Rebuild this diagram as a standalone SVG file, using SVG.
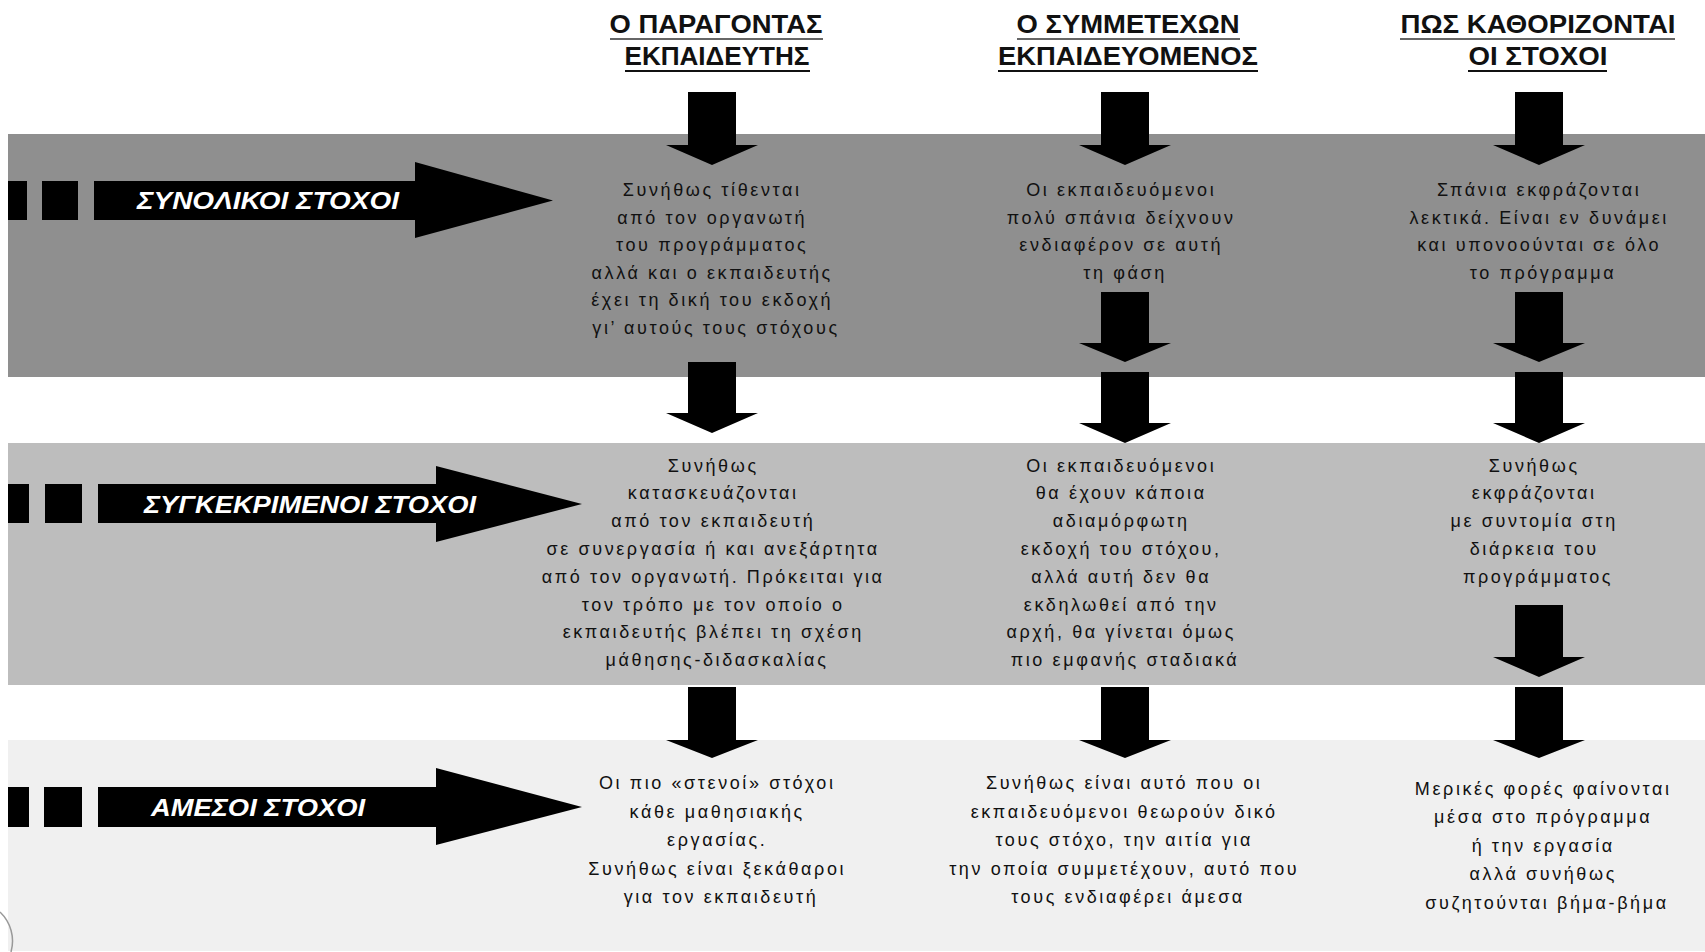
<svg xmlns="http://www.w3.org/2000/svg" width="1705" height="952" viewBox="0 0 1705 952">
<style>
.hdr{font-family:"Liberation Sans",Arial,sans-serif;font-weight:bold;font-size:25px;fill:#111;text-anchor:middle}
.lbl{font-family:"Liberation Sans",Arial,sans-serif;font-weight:bold;font-style:italic;font-size:24px;fill:#fff;text-anchor:middle}
.txt{font-family:"Liberation Sans",Arial,sans-serif;font-size:18px;letter-spacing:2.6px;fill:#111;text-anchor:middle}
.arr{fill:#000}
.ul1{fill:#666}
.ul2{fill:#111}
</style>
<rect width="1705" height="952" fill="#fff"/>
<g id="bands">
<rect id="band1" x="8" y="134" width="1697" height="243" fill="#8f8f8f"/>
<rect id="band2" x="8" y="443" width="1697" height="242" fill="#bdbdbd"/>
<rect id="band3" x="8" y="740" width="1697" height="211" fill="#f0f0f0"/>
</g>
<path d="M0,912 A 40 40 0 0 1 11,952" fill="none" stroke="#999" stroke-width="1.5"/>
<g id="headers">
<g id="hdr1">
<text class="hdr" x="716" y="33" textLength="213" lengthAdjust="spacingAndGlyphs">Ο ΠΑΡΑΓΟΝΤΑΣ</text>
<rect class="ul1" x="610" y="38" width="213" height="2"/>
<text class="hdr" x="717" y="65" textLength="185" lengthAdjust="spacingAndGlyphs">ΕΚΠΑΙΔΕΥΤΗΣ</text>
<rect class="ul2" x="625" y="70" width="185" height="2"/>
</g>
<g id="hdr2">
<text class="hdr" x="1128" y="33" textLength="223" lengthAdjust="spacingAndGlyphs">Ο ΣΥΜΜΕΤΕΧΩΝ</text>
<rect class="ul1" x="1017" y="38" width="223" height="2"/>
<text class="hdr" x="1128" y="65" textLength="260" lengthAdjust="spacingAndGlyphs">ΕΚΠΑΙΔΕΥΟΜΕΝΟΣ</text>
<rect class="ul2" x="998" y="70" width="260" height="2"/>
</g>
<g id="hdr3">
<text class="hdr" x="1538" y="33" textLength="275" lengthAdjust="spacingAndGlyphs">ΠΩΣ ΚΑΘΟΡΙΖΟΝΤΑΙ</text>
<rect class="ul1" x="1400" y="38" width="275" height="2"/>
<text class="hdr" x="1538" y="65" textLength="139" lengthAdjust="spacingAndGlyphs">ΟΙ ΣΤΟΧΟΙ</text>
<rect class="ul2" x="1468" y="70" width="139" height="2"/>
</g>
</g>
<g id="row-arrows">
<g id="arrow-synolikoi">
<rect class="arr" x="8" y="181" width="19" height="39"/>
<rect class="arr" x="42" y="181" width="36" height="39"/>
<rect class="arr" x="94" y="181" width="322" height="39"/>
<polygon class="arr" points="415,162 553,200.5 415,238"/>
<text class="lbl" x="268" y="209" textLength="262" lengthAdjust="spacingAndGlyphs">ΣΥΝΟΛΙΚΟΙ ΣΤΟΧΟΙ</text>
</g>
<g id="arrow-sygkekrimenoi">
<rect class="arr" x="8" y="484" width="21" height="39"/>
<rect class="arr" x="45" y="484" width="37" height="39"/>
<rect class="arr" x="98" y="484" width="339" height="39"/>
<polygon class="arr" points="436,466 582,504 436,542"/>
<text class="lbl" x="310" y="512.5" textLength="332" lengthAdjust="spacingAndGlyphs">ΣΥΓΚΕΚΡΙΜΕΝΟΙ ΣΤΟΧΟΙ</text>
</g>
<g id="arrow-amesoi">
<rect class="arr" x="8" y="787" width="21" height="40"/>
<rect class="arr" x="44" y="787" width="38" height="40"/>
<rect class="arr" x="98" y="787" width="339" height="40"/>
<polygon class="arr" points="436,768 582,807 436,845"/>
<text class="lbl" x="258" y="815.5" textLength="214" lengthAdjust="spacingAndGlyphs">ΑΜΕΣΟΙ ΣΤΟΧΟΙ</text>
</g>
</g>
<g id="connectors">
<path class="arr" d="M688,92H736V145H758L712,165L666,145H688Z"/>
<path class="arr" d="M688,362H736V413H758L712,433L666,413H688Z"/>
<path class="arr" d="M688,687H736V740H758L712,758L666,740H688Z"/>
<path class="arr" d="M1101,92H1149V145H1171L1125,165L1079,145H1101Z"/>
<path class="arr" d="M1101,292H1149V343H1171L1125,362L1079,343H1101Z"/>
<path class="arr" d="M1101,372H1149V423H1171L1125,443L1079,423H1101Z"/>
<path class="arr" d="M1101,687H1149V740H1171L1125,758L1079,740H1101Z"/>
<path class="arr" d="M1515,92H1563V145H1585L1539,165L1493,145H1515Z"/>
<path class="arr" d="M1515,292H1563V343H1585L1539,362L1493,343H1515Z"/>
<path class="arr" d="M1515,372H1563V423H1585L1539,443L1493,423H1515Z"/>
<path class="arr" d="M1515,605H1563V657H1585L1539,677L1493,657H1515Z"/>
<path class="arr" d="M1515,687H1563V740H1585L1539,758L1493,740H1515Z"/>
</g>
<g id="cell-1-1">
<text class="txt">
<tspan x="716" y="196">Συνήθως τίθενται</tspan>
<tspan x="716" y="223.5">από τον οργανωτή</tspan>
<tspan x="716" y="251">του προγράμματος</tspan>
<tspan x="716" y="278.5">αλλά και ο εκπαιδευτής</tspan>
<tspan x="716" y="306">έχει τη δική του εκδοχή</tspan>
<tspan x="716" y="333.5">γι’ αυτούς τους στόχους</tspan>
</text>
</g>
<g id="cell-1-2">
<text class="txt">
<tspan x="1125" y="196">Οι εκπαιδευόμενοι</tspan>
<tspan x="1125" y="223.5">πολύ σπάνια δείχνουν</tspan>
<tspan x="1125" y="251">ενδιαφέρον σε αυτή</tspan>
<tspan x="1125" y="278.5">τη φάση</tspan>
</text>
</g>
<g id="cell-1-3">
<text class="txt">
<tspan x="1543" y="196">Σπάνια εκφράζονται</tspan>
<tspan x="1543" y="223.5">λεκτικά. Είναι εν δυνάμει</tspan>
<tspan x="1543" y="251">και υπονοούνται σε όλο</tspan>
<tspan x="1543" y="278.5">το πρόγραμμα</tspan>
</text>
</g>
<g id="cell-2-1">
<text class="txt">
<tspan x="717" y="471.5">Συνήθως</tspan>
<tspan x="717" y="499.3">κατασκευάζονται</tspan>
<tspan x="717" y="527.1">από τον εκπαιδευτή</tspan>
<tspan x="717" y="554.9">σε συνεργασία ή και ανεξάρτητα</tspan>
<tspan x="717" y="582.7">από τον οργανωτή. Πρόκειται για</tspan>
<tspan x="717" y="610.5">τον τρόπο με τον οποίο ο</tspan>
<tspan x="717" y="638.3">εκπαιδευτής βλέπει τη σχέση</tspan>
<tspan x="717" y="666.1">μάθησης-διδασκαλίας</tspan>
</text>
</g>
<g id="cell-2-2">
<text class="txt">
<tspan x="1125" y="471.5">Οι εκπαιδευόμενοι</tspan>
<tspan x="1125" y="499.3">θα έχουν κάποια</tspan>
<tspan x="1125" y="527.1">αδιαμόρφωτη</tspan>
<tspan x="1125" y="554.9">εκδοχή του στόχου,</tspan>
<tspan x="1125" y="582.7">αλλά αυτή δεν θα</tspan>
<tspan x="1125" y="610.5">εκδηλωθεί από την</tspan>
<tspan x="1125" y="638.3">αρχή, θα γίνεται όμως</tspan>
<tspan x="1125" y="666.1">πιο εμφανής σταδιακά</tspan>
</text>
</g>
<g id="cell-2-3">
<text class="txt">
<tspan x="1538" y="471.5">Συνήθως</tspan>
<tspan x="1538" y="499.3">εκφράζονται</tspan>
<tspan x="1538" y="527.1">με συντομία στη</tspan>
<tspan x="1538" y="554.9">διάρκεια του</tspan>
<tspan x="1538" y="582.7">προγράμματος</tspan>
</text>
</g>
<g id="cell-3-1">
<text class="txt">
<tspan x="721" y="789">Οι πιο «στενοί» στόχοι</tspan>
<tspan x="721" y="817.5">κάθε μαθησιακής</tspan>
<tspan x="721" y="846">εργασίας.</tspan>
<tspan x="721" y="874.5">Συνήθως είναι ξεκάθαροι</tspan>
<tspan x="721" y="903">για τον εκπαιδευτή</tspan>
</text>
</g>
<g id="cell-3-2">
<text class="txt">
<tspan x="1128" y="789">Συνήθως είναι αυτό που οι</tspan>
<tspan x="1128" y="817.5">εκπαιδευόμενοι θεωρούν δικό</tspan>
<tspan x="1128" y="846">τους στόχο, την αιτία για</tspan>
<tspan x="1128" y="874.5">την οποία συμμετέχουν, αυτό που</tspan>
<tspan x="1128" y="903">τους ενδιαφέρει άμεσα</tspan>
</text>
</g>
<g id="cell-3-3">
<text class="txt">
<tspan x="1547" y="794.5">Μερικές φορές φαίνονται</tspan>
<tspan x="1547" y="823">μέσα στο πρόγραμμα</tspan>
<tspan x="1547" y="851.5">ή την εργασία</tspan>
<tspan x="1547" y="880">αλλά συνήθως</tspan>
<tspan x="1547" y="908.5">συζητούνται βήμα-βήμα</tspan>
</text>
</g>
</svg>
